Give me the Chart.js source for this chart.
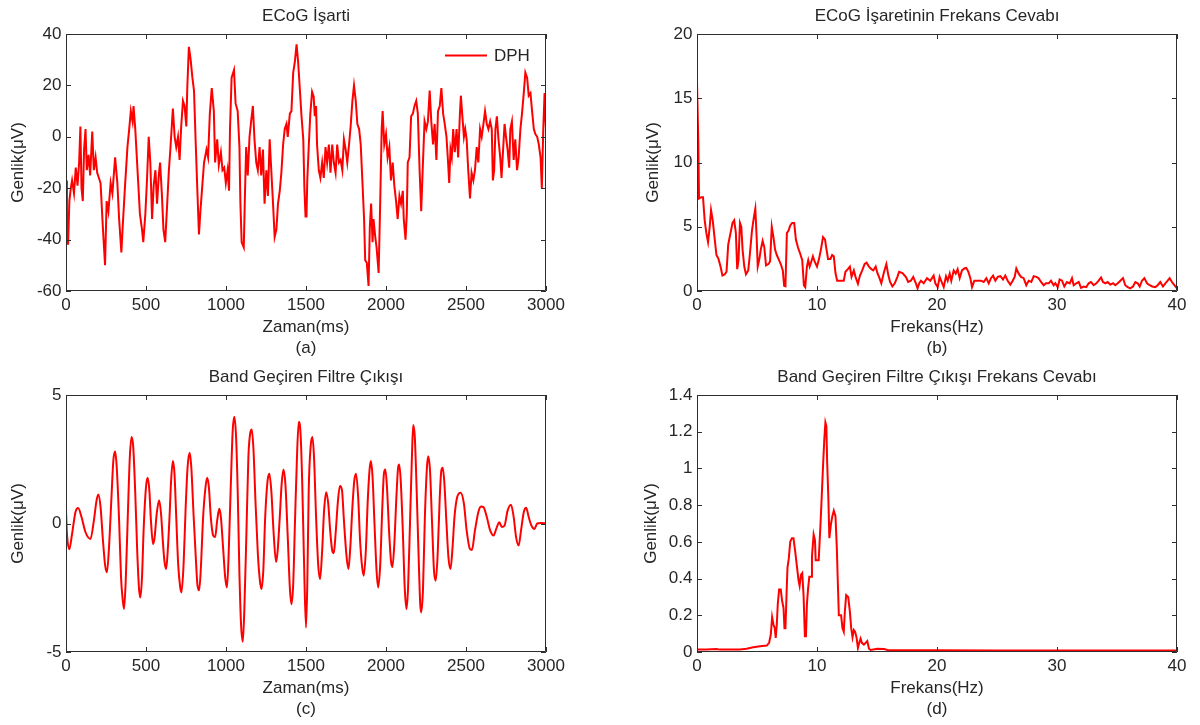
<!DOCTYPE html>
<html><head><meta charset="utf-8">
<script src="https://cdn.jsdelivr.net/npm/chart.js@4.4.0/dist/chart.umd.min.js"></script>
<style>
html,body{margin:0;padding:0;background:#fff;width:1200px;height:725px;overflow:hidden;}
canvas{position:absolute;}
</style></head><body>
<canvas id="ca" width="600" height="362" style="left:0;top:0"></canvas>
<canvas id="cb" width="600" height="362" style="left:600px;top:0"></canvas>
<canvas id="cc" width="600" height="362" style="left:0;top:361px"></canvas>
<canvas id="cd" width="600" height="362" style="left:600px;top:361px"></canvas>
<script>
// ---- (a) ECoG signal ----
const ecogTime = [0,6,13,21,30,38,50,61,72,82,90,97,105,113,122,130,141,151,164,174,185,195,216,231,244,254,265,279,290,307,321,332,346,357,369,384,395,405,416,422,433,447,462,475,483,496,506,517,527,538,548,559,569,580,588,599,609,620,630,643,651,662,668,679,689,700,710,720,731,741,752,758,768,779,790,800,811,821,831,840,853,863,878,888,899,911,924,932,945,955,968,978,989,999,1010,1019,1025,1035,1050,1060,1073,1084,1090,1098,1111,1119,1126,1136,1147,1157,1168,1178,1189,1199,1210,1220,1231,1241,1252,1262,1273,1283,1294,1304,1315,1325,1336,1346,1357,1367,1378,1386,1399,1409,1420,1430,1441,1451,1462,1472,1483,1490,1497,1503,
1508,1517,1527,1538,1548,1555,1563,1569,1580,1590,1601,1611,1622,1632,1643,1653,1664,1674,1685,1695,1706,1716,1727,1737,1748,1758,1769,1779,1790,1800,1811,1821,1832,1842,1853,1863,1870,1880,1891,1899,1907,1916,1922,1933,1941,1954,1964,1973,1979,1989,2000,2010,2021,2031,2042,2052,2063,2073,2084,2094,2105,2111,2122,2130,2136,2147,2157,2168,2178,2189,2199,2210,2220,2231,2241,2252,2262,2273,2283,2294,2304,2315,2325,2336,2346,2357,2367,2378,2388,2395,2403,2411,2420,2430,2441,2451,2462,2468,2476,2487,2495,2504,2514,2525,2535,2546,2556,2567,2577,2588,2598,2609,2619,2630,2640,2651,2661,2668,2676,2684,2693,2703,2714,2722,2731,2741,2750,2760,2770,2777,2787,2798,2808,2819,2829,2840,2850,2861,2871,2882,2892,2903,2913,2924,2934,2945,2955,2966,2974,2983,2991,2995,3000];
const ecogAmp = [-17,-38,-42,-25,-20,-17,-22,-12,-19,-10,4,-20,-25,-5,3,-13,-7,-15,2,-13,-8,-14,-18,-36,-50,-25,-29,-18,-22,-8,-18,-32,-45,-32,-19,-4,3,10,6,12,3,-13,-30,-36,-41,-30,-17,0,-10,-32,-19,-13,-26,-15,-10,-22,-36,-41,-29,-13,-6,5,11,0,-4,0,-9,4,14,12,4,19,35,30,23,18,-3,-21,-38,-29,-18,-10,-5,-8,9,19,10,-10,-1,-11,-6,-13,-12,-18,-13,-21,3,23,26,13,10,-4,-26,-41,-43,-21,-4,-15,0,6,12,-1,-10,-13,-4,-15,-5,-26,-13,-23,-1,-13,-26,-39,-36,-26,-21,-14,-3,3,5,0,9,10,25,29,36,29,18,8,-1,-20,-31,-31,
-17,-4,9,17.5,15.6,8,12,-3,-13,-16,-10,-16,-4,-10,-3,-14,-3,-10,-14,-3,-10,-9,-13,-1,-5,-10,-3,4,14,20,14,5,3,-3,-18,-32,-48,-49,-58,-35,-26,-41,-32,-39,-43,-53,-25,3,10,-3,1,-8,-4,-17,-10,-19,-25,-32,-23,-26,-21,-32,-40,-30,-10,-8,8,9,12,14,9,-13,-29,-10,6,3,6,18,6,-3,5,-9,10,12,19,9,5,0,-10,-18,-5,-8,3,-6,3,-8,9,16,9,0,3,-1,-13,-24,-14,-17,-13,-4,-10,3,0,5,10,5,3,6,3,-17,-13,3,8,-1,-8,-16,-6,5,0,-5,-12,3,6,-9,-1,-13,-8,3,9,17,25,23,16,17,10,3,1,0,-3,-8,-20,3,17,10,3];

// ---- (b) ECoG spectrum ----
const specFreq = [0,0.11,0.17,0.36,0.5,0.64,0.78,0.92,1.06,1.17,1.31,1.48,1.62,1.79,1.96,2.12,2.32,2.46,2.6,2.79,2.96,3.1,3.24,3.35,3.46,3.58,3.69,3.8,3.94,4.08,4.27,4.41,4.58,4.75,4.86,4.97,5.06,5.2,5.31,5.47,5.61,5.75,5.95,6.09,6.23,6.37,6.51,6.65,6.79,6.98,7.15,7.26,7.37,7.49,7.63,7.77,7.93,8.1,8.24,8.41,8.6,8.77,8.91,9.02,9.16,9.27,9.39,9.53,9.66,9.8,10,10.17,10.34,10.5,10.67,10.78,10.92,11.12,11.26,11.4,11.54,11.68,11.96,12.23,12.37,12.57,12.74,12.88,13.07,13.21,13.41,13.58,13.77,13.97,14.13,14.33,14.53,14.69,14.89,15.03,15.17,15.36,15.59,15.78,15.95,16.09,16.28,16.48,16.7,16.84,17.12,17.4,17.6,17.82,18.02,18.24,18.38,18.52,18.66,18.89,19.17,19.44,19.72,19.86,20.06,20.22,20.39,20.56,20.75,20.89,21.06,21.19,21.39,21.56,21.72,21.89,22.08,22.28,22.44,22.61,22.78,22.92,23.11,23.39,23.67,23.89,24.11,24.31,24.5,24.67,24.86,25.06,25.28,25.5,25.69,25.89,26.11,26.31,26.47,26.61,26.81,27,27.22,27.44,27.64,27.86,28.06,28.28,28.47,28.67,28.89,29.08,29.31,29.5,29.72,29.86,30.06,30.22,30.42,30.61,30.83,31.06,31.25,31.39,31.61,31.81,32,32.22,32.44,32.64,32.83,33.06,33.28,33.47,33.67,33.83,34.03,34.22,34.44,34.67,34.86,35.06,35.28,35.5,35.69,35.89,36.11,36.33,36.53,36.72,36.89,37.08,37.28,37.5,37.72,37.94,38.19,38.39,38.61,38.83,39.03,39.22,39.39,39.58,39.78,40];
const specAmp = [16.2,11.6,7.2,7.3,7.3,5.5,4.5,3.8,5.0,6.3,5.5,4.0,2.8,2.5,1.9,1.2,1.3,1.5,3.6,4.5,5.3,5.5,4.5,1.7,2.4,5.3,5.0,3.2,1.9,1.3,1.6,2.9,4.7,5.8,6.4,4.2,1.9,2.5,3.2,3.9,3.4,2.0,2.1,2.3,5.0,4.2,3.2,2.8,2.5,2.1,1.6,0.4,0.36,4.5,4.7,5.1,5.3,5.3,4.0,3.4,2.9,2.4,0.44,0.3,1.9,2.4,1.9,2.3,2.7,2.3,1.9,2.5,3.3,4.2,4.0,3.3,2.5,2.5,2.8,2.7,1.4,0.8,0.8,0.8,1.5,1.7,1.9,1.1,1.6,1.1,0.57,1.2,1.6,2.1,2.2,1.9,1.7,1.6,1.9,1.4,1.1,0.6,1.5,2.1,1.2,0.7,0.36,0.6,1.1,1.5,1.4,1.1,0.7,0.8,1.1,0.6,0.2,0.6,0.8,0.6,1.0,0.8,1.2,0.6,0.3,1.1,0.7,0.3,1.15,0.8,1.35,0.8,1.6,1.35,1.7,1.0,1.6,1.75,1.8,1.5,1.0,0.3,0.8,0.8,0.8,0.7,1.0,0.6,1.0,1.2,0.8,1.1,1.15,0.9,1.2,0.8,0.5,0.8,1.1,1.75,1.35,1.1,1.0,0.45,0.8,0.7,1.15,1.1,1.0,0.7,0.45,0.6,0.6,0.8,0.45,0.6,0.3,0.9,0.8,0.35,0.7,0.6,1.0,0.45,0.6,0.7,0.25,0.35,0.3,0.6,0.7,0.45,0.6,0.8,1.05,0.7,0.6,0.7,0.5,0.6,0.45,0.6,0.8,1.0,0.45,0.3,0.2,0.35,0.7,0.6,0.35,0.8,1.0,0.6,0.45,0.35,0.3,0.45,0.7,0.35,0.6,0.8,1.0,0.7,0.45,0.2];

// ---- (c) Band-pass filter output ----
const filtTime = [0,6,21,38,59,76,97,122,153,174,191,202,216,231,244,256,269,284,296,307,317,332,344,355,363,374,386,399,410,420,433,445,456,464,475,485,500,510,521,531,544,554,567,582,594,605,615,626,636,647,657,668,678,689,701,714,722,735,748,760,773,783,798,811,821,832,842,857,872,882,893,905,920,932,945,958,968,983,995,1006,1016,1029,1042,1052,1063,1073,1084,1094,1105,1115,1128,1140,1153,1161,1172,1184,1199,1212,1222,1233,1245,1260,1271,1283,1298,1313,1323,1336,1348,1359,1371,1386,1399,1409,1420,1432,1445,1455,1466,1476,1487,1500,1508,1517,1529,1540,1550,1563,1576,1588,1601,1613,1626,1639,1651,1664,1674,1685,1700,1712,1725,1737,1752,1765,1777,1790,1802,1813,1826,1838,1851,1861,1874,1886,1897,1905,1916,1928,1941,1951,1964,1977,1987,1996,2006,2019,2031,2040,2052,2065,2075,2082,2092,2105,2117,2128,2138,2151,2162,2170,2180,2191,2204,2214,2220,2231,2243,2256,2264,2275,2288,2300,2311,2323,2336,2346,2355,2365,2378,2390,2403,2416,2428,2445,2466,2487,2504,2525,2537,2556,2577,2594,2609,2630,2651,2672,2689,2708,2724,2741,2760,2781,2798,2813,2829,2844,2861,2876,2892,2909,2928,2945,2966,3000];
const filtAmp = [0.5,-0.4,-1.0,-0.4,0.44,0.6,0.25,-0.34,-0.6,0.1,0.9,1.13,0.64,-0.66,-1.6,-1.9,-0.9,1.0,2.46,2.8,2.2,0.1,-2.1,-3.0,-3.33,-2.1,0.25,2.6,3.37,3.0,1.16,-1.05,-2.5,-2.88,-2.1,-0.27,1.42,1.78,1.29,0.1,-0.8,-0.53,0.38,0.9,0.38,-0.66,-1.45,-1.77,-1.05,0.25,1.68,2.43,1.94,0.25,-1.58,-2.49,-2.68,-1.58,0.64,2.2,2.75,2.2,0.25,-1.3,-2.36,-2.6,-1.84,0.25,1.42,1.78,1.42,0.25,-0.47,-0.53,0.12,0.57,0.25,-1.05,-2.1,-2.49,-1.3,1.29,3.63,4.15,3.37,1.29,-1.97,-3.92,-4.6,-3.27,-0.27,2.6,3.57,3.66,2.85,0.9,-1.18,-2.23,-2.55,-1.84,0.25,1.68,1.94,1.29,-0.4,-1.5,-1.05,0.25,1.55,2.1,1.55,-0.53,-2.49,-3.14,-2.36,0.25,2.85,3.96,3.5,1.68,-1.3,-4.05,-2.4,1.29,3.0,3.37,2.6,0.25,-1.58,-2.16,-1.05,0.5,1.22,0.77,-0.27,-1.05,-1.15,-0.4,0.9,1.46,1.29,0.12,-1.18,-1.77,-0.92,0.64,1.68,1.94,1.03,-0.66,-1.7,-2.03,-1.05,0.9,2.07,2.43,1.81,0,-1.84,-2.49,-1.58,0.64,1.94,2.1,1.42,-0.27,-1.45,-1.7,-0.8,1.03,2.14,2.3,1.68,-0.27,-2.49,-3.33,-2.49,0.25,2.6,3.83,3.37,1.42,-1.3,-3.14,-3.46,-2.6,0.25,2.2,2.62,2.07,0,-1.84,-2.23,-1.18,1.03,2.07,2.17,1.55,0,-1.3,-1.77,-0.92,0.25,1.03,1.2,0.77,-0.27,-1.0,-1.03,-0.27,0.44,0.66,0.64,0.25,-0.27,-0.47,-0.21,0.05,-0.14,-0.08,0.5,0.73,0.25,-0.53,-0.86,-0.27,0.44,0.61,0.25,-0.08,-0.21,0,0.02,0];

// ---- (d) Filter output spectrum ----
const filtFreq = [0,0.78,1.62,1.9,2.74,3.58,4.13,4.69,5.25,5.81,6.01,6.15,6.26,6.37,6.48,6.56,6.65,6.73,6.84,6.98,7.09,7.21,7.29,7.37,7.46,7.54,7.65,7.77,7.91,8.04,8.18,8.32,8.46,8.55,8.66,8.77,8.88,8.99,9.08,9.16,9.25,9.36,9.5,9.58,9.72,9.83,9.89,10.14,10.28,10.39,10.5,10.61,10.7,10.78,10.84,10.95,11.03,11.17,11.28,11.4,11.54,11.65,11.73,11.82,12.01,12.12,12.23,12.32,12.43,12.6,12.74,12.85,12.96,13.07,13.18,13.3,13.41,13.52,13.63,13.74,13.91,14.05,14.19,14.33,14.47,15.03,15.59,15.87,20,25,30,35,40];
const filtSpec = [0.013,0.014,0.016,0.013,0.014,0.013,0.018,0.026,0.031,0.035,0.05,0.095,0.19,0.15,0.13,0.077,0.15,0.26,0.34,0.34,0.28,0.24,0.13,0.13,0.31,0.46,0.51,0.6,0.62,0.62,0.55,0.47,0.39,0.36,0.42,0.43,0.31,0.086,0.086,0.26,0.34,0.41,0.41,0.52,0.64,0.61,0.5,0.5,0.68,0.84,1.01,1.16,1.25,1.23,1.05,0.83,0.62,0.7,0.74,0.77,0.74,0.57,0.39,0.2,0.2,0.13,0.11,0.22,0.31,0.3,0.22,0.13,0.08,0.12,0.11,0.077,0.022,0.05,0.073,0.05,0.04,0.05,0.06,0.018,0.011,0.018,0.016,0.011,0.009,0.008,0.008,0.008,0.008];

// ---- tick labels ----
const timeTicks = [0,500,1000,1500,2000,2500,3000];
const freqTicks = [0,10,20,30,40];
const ecogYTicks = [-60,-40,-20,0,20,40];
const specYTicks = [0,5,10,15,20];
const filtYTicks = [-5,0,5];
const filtSpecYTicks = [0,0.2,0.4,0.6,0.8,1,1.2,1.4];

const FONT = "'Liberation Sans', Arial, sans-serif";
const TXT = '#262626';
const AX = '#2e2e2e';

const framePlugin = {
  id: 'frame',
  afterDatasetsDraw(chart) {
    const {ctx, chartArea: {left, right, top, bottom}, scales: {x, y}} = chart;
    ctx.save();
    ctx.strokeStyle = AX; ctx.lineWidth = 1;
    const L = 5;
    ctx.beginPath();
    ctx.rect(left + 0.5, top + 0.5, right - left - 1, bottom - top - 1);
    x.ticks.forEach(t => {
      const px = Math.round(x.getPixelForValue(t.value)) + 0.5;
      ctx.moveTo(px, bottom); ctx.lineTo(px, bottom - L);
      ctx.moveTo(px, top); ctx.lineTo(px, top + L);
    });
    y.ticks.forEach(t => {
      const py = Math.round(y.getPixelForValue(t.value)) + 0.5;
      ctx.moveTo(left, py); ctx.lineTo(left + L, py);
      ctx.moveTo(right, py); ctx.lineTo(right - L, py);
    });
    ctx.stroke();
    ctx.restore();
  }
};

const legendPlugin = {
  id: 'dphLegend',
  afterDraw(chart, args, opts) {
    if (!opts || !opts.label) return;
    const {ctx, chartArea: {right, top}} = chart;
    ctx.save();
    ctx.strokeStyle = 'rgb(255,0,0)'; ctx.lineWidth = 2;
    ctx.beginPath(); ctx.moveTo(right - 101, top + 21.5); ctx.lineTo(right - 59, top + 21.5); ctx.stroke();
    ctx.fillStyle = TXT; ctx.font = '17px ' + FONT; ctx.textBaseline = 'middle'; ctx.textAlign = 'left';
    ctx.fillText(opts.label, right - 52, top + 22.5);
    ctx.restore();
  }
};

function fmt(v) { return String(Math.round(v * 10) / 10); }

function makePanel(id, cfg) {
  const pts = cfg.xs.map((v, i) => ({x: v, y: cfg.ys[i]}));
  const ds = {label: cfg.legend || '', data: pts, borderColor: 'rgb(255,0,0)', borderWidth: 2, pointRadius: 0, tension: 0, fill: false};
  if (cfg.smooth) { ds.cubicInterpolationMode = 'monotone'; }
  return new Chart(document.getElementById(id), {
    type: 'line',
    data: {datasets: [ds]},
    options: {
      responsive: false, animation: false, devicePixelRatio: 1,
      layout: {padding: {left: 0, right: cfg.padRight, top: 0, bottom: 0}},
      plugins: {
        legend: {display: false}, tooltip: {enabled: false},
        title: {display: true, fullSize: false, text: cfg.title, color: TXT,
                font: {family: FONT, size: 17, weight: 'normal', lineHeight: 1.2},
                padding: {top: 5.8, bottom: 7.8}},
        dphLegend: {label: cfg.legend || ''}
      },
      scales: {
        x: {
          type: 'linear', position: 'bottom', min: cfg.xmin, max: cfg.xmax,
          grid: {display: false, drawTicks: false}, border: {display: false},
          afterBuildTicks: s => { s.ticks = cfg.xticks.map(v => ({value: v})); },
          afterFit: s => { s.height = 71; },
          ticks: {color: TXT, font: {family: FONT, size: 17, lineHeight: 1.2}, padding: 3.8, maxRotation: 0, autoSkip: false, callback: v => fmt(v)},
          title: {display: true, text: [cfg.xlabel, cfg.tag], color: TXT, font: {family: FONT, size: 17, lineHeight: '21.5px'}, padding: {top: 0, bottom: 2.75}}
        },
        y: {
          type: 'linear', position: 'left', min: cfg.ymin, max: cfg.ymax,
          grid: {display: false, drawTicks: false}, border: {display: false},
          afterBuildTicks: s => { s.ticks = cfg.yticks.map(v => ({value: v})); },
          afterFit: s => { s.width = cfg.yWidth; },
          ticks: {color: TXT, font: {family: FONT, size: 17, lineHeight: 1.2}, padding: 4.5, autoSkip: false, callback: v => fmt(v)},
          title: {display: true, text: 'Genlik(μV)', color: TXT, font: {family: FONT, size: 17, lineHeight: 1.2}, padding: {top: cfg.yTitlePad, bottom: 0}}
        }
      }
    },
    plugins: [framePlugin, legendPlugin]
  });
}

makePanel('ca', {xs: ecogTime, ys: ecogAmp, xmin: 0, xmax: 3000, ymin: -60, ymax: 40, xticks: timeTicks, yticks: ecogYTicks,
  title: 'ECoG İşarti', xlabel: 'Zaman(ms)', tag: '(a)', legend: 'DPH', padRight: 54, yWidth: 66, yTitlePad: 7.8});
makePanel('cb', {xs: specFreq, ys: specAmp, xmin: 0, xmax: 40, ymin: 0, ymax: 20, xticks: freqTicks, yticks: specYTicks,
  title: 'ECoG İşaretinin Frekans Cevabı', xlabel: 'Frekans(Hz)', tag: '(b)', padRight: 23, yWidth: 97, yTitlePad: 42.8});
makePanel('cc', {xs: filtTime, ys: filtAmp, xmin: 0, xmax: 3000, ymin: -5, ymax: 5, xticks: timeTicks, yticks: filtYTicks,
  title: 'Band Geçiren Filtre Çıkışı', xlabel: 'Zaman(ms)', tag: '(c)', padRight: 54, yWidth: 66, yTitlePad: 7.8, smooth: true});
makePanel('cd', {xs: filtFreq, ys: filtSpec, xmin: 0, xmax: 40, ymin: 0, ymax: 1.4, xticks: freqTicks, yticks: filtSpecYTicks,
  title: 'Band Geçiren Filtre Çıkışı Frekans Cevabı', xlabel: 'Frekans(Hz)', tag: '(d)', padRight: 23, yWidth: 97, yTitlePad: 40.8});
</script>
</body></html>
